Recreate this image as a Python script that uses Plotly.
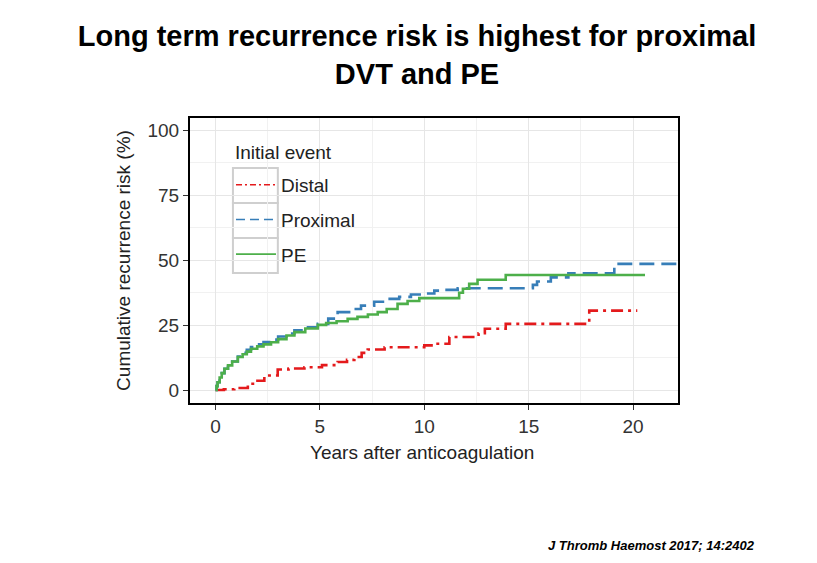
"""Cumulative recurrence risk by initial event (step curves)."""
import plotly.graph_objects as go

# --- data ---
distal_years = [0, 0.4, 0.9, 1.55, 1.9, 2.34, 2.98, 3.5, 4.26, 5.1, 5.85, 6.3, 6.65,
                7.0, 7.29, 8.1, 10.0, 10.5, 11.2, 12.6, 12.9, 13.9, 17.9, 20.2]
distal_risk = [0, 0.3, 0.8, 2.4, 3.6, 5.6, 7.9, 8.3, 8.8, 9.6, 10.8, 11.6, 12.7,
               14.3, 15.6, 16.5, 17.2, 17.8, 20.4, 21.9, 23.6, 25.5, 30.6, 30.6]

proximal_years = [0, 0.05, 0.1, 0.2, 0.3, 0.43, 0.6, 0.8, 1.07, 1.3, 1.5, 1.7, 2.0,
                  2.3, 2.66, 3.0, 3.4, 3.78, 4.3, 4.9, 5.4, 5.85, 6.4, 6.97, 7.6,
                  8.25, 8.8, 9.36, 10.0, 10.48, 11.0, 11.6, 15.2, 15.4, 16.06, 16.9,
                  19.1, 22.5]
proximal_risk = [0, 1.5, 3.0, 4.8, 6.5, 8.2, 9.5, 11.0, 12.9, 14.3, 15.5, 16.6, 17.6,
                 18.5, 19.4, 20.6, 21.8, 23.0, 24.2, 25.5, 27.5, 30.0, 31.2, 32.5, 34.0,
                 35.1, 35.9, 36.8, 37.2, 38.3, 38.6, 39.2, 40.5, 41.8, 43.4, 45.0,
                 48.6, 48.6]

pe_years = [0, 0.05, 0.1, 0.2, 0.3, 0.43, 0.6, 0.8, 1.07, 1.3, 1.5, 1.7, 2.0, 2.3,
            2.66, 3.0, 3.4, 3.78, 4.3, 4.9, 5.3, 5.8, 6.33, 6.8, 7.3, 7.77, 8.2, 8.72,
            9.2, 9.76, 11.67, 11.85, 12.15, 12.55, 13.9, 20.57]
pe_risk = [0, 1.5, 3.0, 4.8, 6.5, 8.2, 9.5, 11.0, 12.7, 13.8, 14.8, 15.9, 16.8, 17.6,
           18.4, 19.6, 21.0, 22.3, 23.7, 25.1, 25.8, 26.5, 27.4, 28.2, 29.1, 30.0, 31.2,
           33.2, 34.3, 35.4, 37.5, 39.0, 40.9, 42.5, 44.3, 44.3]

# name, x, y, colour, dash on the curve, dash in the legend key
series = [
    ("Distal", distal_years, distal_risk, "#e41a1c", "12px,5px,3px,5px", "6px,3px,2px,3px"),
    ("Proximal", proximal_years, proximal_risk, "#377eb8", "15px,7px", "9px,5px"),
    ("PE", pe_years, pe_risk, "#4daf4a", "solid", "solid"),
]

FONT = "Liberation Sans, Arial, Helvetica, sans-serif"

fig = go.Figure()
for name, xs, ys, color, dash, key_dash in series:
    fig.add_trace(go.Scatter(
        x=xs, y=ys, mode="lines", name=name, showlegend=False,
        line=dict(color=color, dash=dash, width=2.6, shape="hv"),
    ))
    # thin legend key, like the ggplot original
    fig.add_trace(go.Scatter(
        x=[None], y=[None], mode="lines", name=name, legendgroup=name,
        line=dict(color=color, dash=key_dash, width=1.6),
    ))

# grey boxes round each legend key (ggplot style)
for i in range(3):
    fig.add_shape(type="rect", xref="paper", yref="paper",
                  x0=0.088, x1=0.180,
                  y0=1 - (50 + 35 * (i + 1)) / 285, y1=1 - (50 + 35 * i) / 285,
                  line=dict(color="#cfcfcf", width=2), fillcolor="rgba(0,0,0,0)",
                  layer="below")

fig.add_annotation(text="Initial event", xref="paper", yref="paper",
                   x=0.088, y=1 - 34 / 285, xanchor="left", yanchor="middle",
                   showarrow=False, font=dict(size=19, color="#222"))
fig.add_annotation(text="Years after anticoagulation", xref="paper", yref="paper",
                   x=0.475, y=-0.172, xanchor="center", yanchor="middle",
                   showarrow=False, font=dict(size=19, color="#222"))

# page has an 8px body margin, so the figure is trimmed by that much
fig.update_layout(
    width=809, height=555,
    margin=dict(l=182, r=139, t=110, b=160),
    paper_bgcolor="white", plot_bgcolor="white",
    font=dict(family=FONT, size=19, color="#222"),
    title=dict(text="<b>Long term recurrence risk is highest for proximal<br>DVT and PE</b>",
               x=0.5056, xanchor="center", y=0.931, yref="container", yanchor="middle",
               font=dict(family=FONT, size=29, color="black")),
    legend=dict(x=0.084, y=0.832, xanchor="left", yanchor="top",
                bgcolor="rgba(0,0,0,0)", borderwidth=0,
                traceorder="grouped", tracegroupgap=7, itemwidth=40,
                font=dict(size=19)),
    showlegend=True,
)

axis_common = dict(
    showgrid=True, gridcolor="#e6e6e6", gridwidth=1,
    zeroline=False, showline=True, linecolor="black", linewidth=2, mirror=True,
    ticks="outside", ticklen=5, tickcolor="#333", tickwidth=1,
    tickfont=dict(size=19, color="#333"),
)
fig.update_xaxes(range=[-1.22, 22.15], tickvals=[0, 5, 10, 15, 20],
                 minor=dict(dtick=2.5, tick0=0, showgrid=True, gridcolor="#f1f1f1"),
                 **axis_common)
fig.update_yaxes(range=[-5, 104.8], tickvals=[0, 25, 50, 75, 100],
                 minor=dict(dtick=12.5, tick0=0, showgrid=True, gridcolor="#f1f1f1"),
                 title=dict(text="Cumulative recurrence risk (%)", font=dict(size=19), standoff=12),
                 **axis_common)

fig.add_annotation(text="<b><i>J Thromb Haemost 2017; 14:2402</i></b>",
                   xref="paper", yref="paper", x=1.162, y=-0.5,
                   xanchor="right", yanchor="middle", showarrow=False,
                   font=dict(family=FONT, size=13, color="black"))

fig.write_html("out.html")
